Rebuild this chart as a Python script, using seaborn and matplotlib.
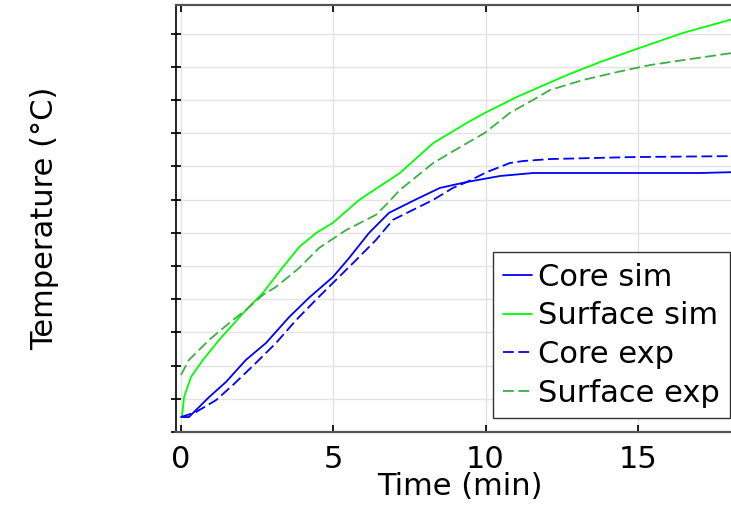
import numpy as np
import pandas as pd
import matplotlib
matplotlib.use("Agg")
import matplotlib.pyplot as plt
import seaborn as sns

# values (time in min, temperature in tick units)
core_sim_t = [0, 0.26, 0.92, 1.48, 2.13, 2.79, 3.55, 4.20, 4.99, 5.52, 6.17, 6.83,
              7.75, 8.50, 9.39, 10.48, 11.56, 13.76, 17.04, 18.3]
core_sim_T = [4.5, 4.5, 10.5, 15.1, 21.7, 26.8, 34.6, 40.4, 46.7, 52.4, 59.9, 66.0,
              70.2, 73.5, 75.3, 77.1, 78.0, 78.0, 78.0, 78.3]

surf_sim_t = [0.03, 0.10, 0.33, 0.72, 1.25, 2.04, 2.69, 3.35, 3.88, 4.43, 4.99, 5.85,
              7.19, 8.28, 9.39, 9.98, 11.03, 12.68, 13.76, 14.98, 16.49, 18.3]
surf_sim_T = [4.5, 10.5, 16.6, 21.7, 27.7, 35.8, 41.9, 49.7, 55.7, 59.9, 63.0, 69.9,
              78.0, 87.0, 93.1, 96.1, 100.9, 107.5, 111.4, 115.4, 120.2, 124.8]

core_exp_t = [0, 0.49, 1.15, 1.71, 2.46, 3.12, 3.78, 4.43, 5.09, 5.75, 6.40, 6.96,
              7.95, 8.28, 8.93, 9.39, 10.05, 10.80, 11.23, 12.12, 14.84, 18.3]
core_exp_T = [4.5, 6.0, 9.6, 14.2, 20.8, 26.8, 33.7, 39.8, 45.8, 51.8, 57.8, 63.9,
              68.4, 69.9, 73.5, 75.3, 78.3, 81.0, 81.6, 82.2, 82.8, 83.1]

surf_exp_t = [0, 0.26, 0.92, 1.58, 2.20, 2.69, 3.12, 3.88, 4.53, 5.42, 6.40, 6.73,
              7.19, 8.28, 9.39, 9.98, 10.80, 11.56, 12.12, 13.20, 14.32, 15.40, 16.49, 18.3]
surf_exp_T = [17.2, 21.7, 27.7, 32.8, 37.3, 41.3, 43.7, 49.4, 55.4, 60.8, 65.4, 68.4,
              72.9, 81.0, 87.0, 90.1, 96.1, 100.0, 103.0, 106.0, 108.4, 110.5, 112.0, 114.4]

series = ["Core sim", "Surface sim", "Core exp", "Surface exp"]
colors = {"Core sim": "#0000ff", "Surface sim": "#00ff00",
          "Core exp": "#0000ff", "Surface exp": "#3cb043"}
dashes = {"Core sim": "", "Surface sim": "", "Core exp": (6, 2.5), "Surface exp": (6, 2.5)}

frames = []
for name, t, T in zip(series,
                      [core_sim_t, surf_sim_t, core_exp_t, surf_exp_t],
                      [core_sim_T, surf_sim_T, core_exp_T, surf_exp_T]):
    frames.append(pd.DataFrame({"time": t, "temp": T, "series": name}))
df = pd.concat(frames, ignore_index=True)

sns.set_theme(style="ticks")
plt.rcParams["font.family"] = ["DejaVu Sans"]
plt.rcParams["text.color"] = "black"
plt.rcParams["axes.labelcolor"] = "black"
plt.rcParams["xtick.color"] = "black"
plt.rcParams["ytick.color"] = "black"

fig = plt.figure(figsize=(7.31, 5.08), dpi=100)
ax = fig.add_axes([0.2408, 0.1496, 0.777, 0.8406])

sns.lineplot(data=df, x="time", y="temp", hue="series", style="series",
             hue_order=series, style_order=series, palette=colors, dashes=dashes,
             estimator=None, sort=False, linewidth=1.3, ax=ax)

ax.set_xlim(-0.164, 18.49)
ax.set_ylim(0, 128.6)
ax.set_xticks([0, 5, 10, 15])
ax.set_yticks(np.arange(0, 121, 10))
ax.set_yticklabels([])
ax.grid(True, color="#e3e3e3", linewidth=1)
ax.set_axisbelow(True)

ax.tick_params(axis="x", direction="in", length=5, labelsize=22, pad=9,
               top=True)
ax.tick_params(axis="y", direction="inout", length=7)

ax.spines["left"].set_color("black")
ax.spines["left"].set_linewidth(1.2)
for s in ["top", "bottom"]:
    ax.spines[s].set_color("#555555")
    ax.spines[s].set_linewidth(1.6)

ax.set_xlabel("Time (min)", fontsize=22)
ax.xaxis.set_label_coords(0.5, -0.094)
ax.xaxis.label.set_va("top")
ax.set_ylabel("Temperature (°C)", fontsize=22)
ax.yaxis.set_label_coords(-0.205, 0.5)

handles, labels = ax.get_legend_handles_labels()
leg = ax.legend(handles, labels, loc="lower right", bbox_to_anchor=(730 / 731, (508 - 418) / 508),
                bbox_transform=fig.transFigure, fontsize=22, handlelength=0.95,
                handletextpad=0.2, labelspacing=0.32, borderpad=0.33,
                fancybox=False, framealpha=1, borderaxespad=0)
leg.get_frame().set_edgecolor("#333333")
leg.get_frame().set_linewidth(1.0)

fig.savefig("out.png", dpi=100)
